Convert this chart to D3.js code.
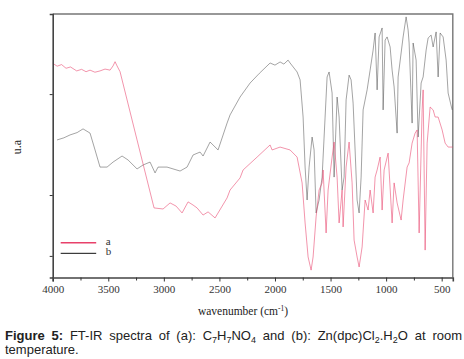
<!DOCTYPE html>
<html>
<head>
<meta charset="utf-8">
<script src="https://cdn.jsdelivr.net/npm/d3@7"></script>
<style>
  body { margin: 0; background: #fff; }
  svg { display: block; }
</style>
</head>
<body>
<script>
// wavenumber (cm-1) and absorbance (a.u., 0-100)
const waveA = [4000, 3960, 3920, 3880, 3840, 3784, 3740, 3700, 3664, 3620, 3574, 3529, 3484, 3457, 3439, 3421, 3394, 3241, 3088, 3007, 2944, 2890, 2836, 2782, 2737, 2701, 2647, 2602, 2539, 2431, 2404, 2314, 2287, 2161, 2044, 2026, 1954, 1864, 1801, 1756, 1729, 1702, 1675, 1657, 1630, 1603, 1576, 1567, 1540, 1522, 1486, 1468, 1441, 1423, 1396, 1387, 1360, 1333, 1306, 1288, 1261, 1243, 1216, 1189, 1162, 1144, 1117, 1099, 1081, 1054, 1036, 1018, 982, 946, 928, 901, 865, 847, 811, 793, 766, 739, 721, 703, 676, 667, 649, 631, 604, 577, 559, 532, 496, 469, 442, 400];
const valA  = [81.3, 80.2, 80.8, 79.4, 79.9, 78.4, 79.0, 78.1, 78.7, 77.9, 78.4, 79.1, 78.7, 80.3, 81.9, 80.3, 78.1, 52.2, 26.4, 26.0, 28.3, 27.1, 24.5, 28.7, 27.5, 26.4, 23.7, 24.9, 22.6, 30.2, 33.2, 37.8, 40.8, 45.7, 50.3, 48.4, 49.5, 48.4, 45.7, 35.9, 20.7, 7.8, 2.8, 7.8, 23.0, 33.2, 35.9, 40.8, 16.9, 33.2, 45.7, 51.4, 38.1, 20.7, 33.2, 19.2, 41.9, 51.4, 35.9, 14.2, 7.8, 4.0, 11.6, 29.4, 25.6, 33.2, 24.5, 38.1, 40.8, 45.7, 25.6, 40.8, 47.2, 20.7, 35.9, 28.3, 21.8, 29.4, 41.9, 43.5, 51.0, 54.8, 56.0, 16.9, 63.6, 71.2, 10.4, 51.0, 64.7, 63.6, 60.9, 60.9, 56.0, 51.0, 49.5, 49.5];

const waveB = [3961, 3900, 3844, 3780, 3727, 3664, 3619, 3574, 3511, 3457, 3376, 3322, 3241, 3187, 3124, 3079, 3052, 2971, 2854, 2791, 2737, 2674, 2647, 2584, 2512, 2431, 2404, 2314, 2224, 2140, 2044, 2000, 1954, 1920, 1882, 1864, 1801, 1774, 1747, 1729, 1711, 1693, 1666, 1648, 1630, 1603, 1576, 1549, 1531, 1513, 1486, 1468, 1441, 1423, 1396, 1378, 1360, 1333, 1315, 1297, 1279, 1261, 1243, 1225, 1207, 1171, 1144, 1117, 1099, 1081, 1063, 1036, 1027, 1009, 991, 964, 946, 928, 901, 892, 865, 847, 820, 802, 793, 766, 757, 730, 712, 685, 667, 640, 622, 595, 577, 550, 532, 514, 487, 460, 442, 406];
const valB  = [52.2, 53.0, 54.1, 55.0, 56.4, 54.8, 48.4, 41.9, 41.9, 43.8, 46.1, 44.6, 41.2, 42.7, 43.8, 39.7, 41.9, 41.9, 40.4, 41.9, 46.5, 47.6, 46.1, 51.4, 48.4, 58.6, 61.7, 68.5, 73.8, 77.5, 81.4, 80.6, 81.8, 81.0, 82.5, 81.4, 78.0, 75.0, 60.9, 41.9, 29.4, 41.9, 53.3, 48.4, 24.5, 29.4, 38.1, 60.9, 76.1, 78.0, 70.0, 38.1, 68.5, 60.9, 33.2, 38.1, 67.4, 76.8, 75.0, 66.2, 48.4, 29.4, 24.5, 38.1, 63.6, 71.2, 78.7, 86.3, 92.8, 71.2, 91.3, 94.7, 63.6, 90.1, 91.3, 87.5, 78.7, 72.3, 54.8, 76.1, 85.2, 91.3, 98.9, 93.9, 89.0, 58.6, 89.0, 82.5, 53.3, 73.8, 76.1, 86.3, 90.9, 92.0, 87.5, 93.2, 76.1, 92.8, 91.3, 82.5, 70.0, 63.6];

const xTicks = [4000, 3500, 3000, 2500, 2000, 1500, 1000, 500];
const xMinor = [3750, 3250, 2750, 2250, 1750, 1250, 750];
const yTicks = [8.2, 31.3, 69.6];
const seriesNames = ["a", "b"];
const seriesColors = ["#e8416a", "#333333"];

// caption words; "_n" marks a subscript digit, bold words first
const captionBold = ["Figure", "5:"];
const captionLine1 = ["FT-IR", "spectra", "of", "(a):", "C_7H_7NO_4", "and", "(b):", "Zn(dpc)Cl_2.H_2O", "at", "room"];
const captionLine2 = ["temperature."];

const width = 464, height = 359;
const margin = { left: 52.7, right: 11.2, top: 14, bottom: 81.5 };
const innerWidth = width - margin.left - margin.right;
const innerHeight = height - margin.top - margin.bottom;
const serif = "Liberation Serif";
const sans = "Liberation Sans";

const svg = d3.select("body").append("svg")
    .attr("width", width)
    .attr("height", height);

const chart = svg.append("g")
    .attr("transform", `translate(${margin.left},${margin.top})`);

const x = d3.scaleLinear().domain([4000, 400]).range([0, innerWidth]);
const y = d3.scaleLinear().domain([0, 100]).range([innerHeight, 0]);

// frame (top and right)
chart.append("path")
    .attr("d", `M0,0H${innerWidth}V${innerHeight}`)
    .attr("fill", "none")
    .attr("stroke", "#777")
    .attr("stroke-width", 1.4);

// spectra
const line = d3.line().x(d => x(d[0])).y(d => y(d[1]));

chart.append("path").datum(d3.zip(waveB, valB))
    .attr("d", line).attr("fill", "none")
    .attr("stroke", seriesColors[1]).attr("stroke-width", 0.6).attr("stroke-opacity", 0.75);

chart.append("path").datum(d3.zip(waveA, valA))
    .attr("d", line).attr("fill", "none")
    .attr("stroke", seriesColors[0]).attr("stroke-width", 0.7).attr("stroke-opacity", 0.8);

// axes
const xAxis = chart.append("g")
    .attr("transform", `translate(0,${innerHeight})`)
    .attr("font-family", serif)
    .attr("font-size", 11)
    .call(d3.axisBottom(x).tickValues(xTicks).tickSize(4).tickFormat(d3.format("d")));
chart.append("g")
    .attr("transform", `translate(0,${innerHeight})`)
    .call(d3.axisBottom(x).tickValues(xMinor).tickSize(3).tickFormat(""))
    .call(g => g.select(".domain").remove());

const yAxis = chart.append("g")
    .call(d3.axisLeft(y).tickValues(yTicks).tickSize(3).tickFormat(""));

[xAxis, yAxis].forEach(g => {
    g.select(".domain").attr("stroke", "#444").attr("stroke-width", 1.6);
});
chart.selectAll(".tick line").attr("stroke", "#333");
xAxis.attr("font-family", serif).attr("font-size", 11);
xAxis.selectAll(".tick text")
    .attr("dy", 0)
    .attr("y", 15.5)
    .attr("fill", "#333");

// legend
const legend = chart.append("g")
    .attr("transform", `translate(8, ${y(13.2)})`);
seriesNames.forEach((name, i) => {
    const g = legend.append("g").attr("transform", `translate(0, ${i * 10.6})`);
    g.append("line")
        .attr("x1", 0).attr("x2", 35.5)
        .attr("stroke", i === 0 ? "#e8416a" : "#111")
        .attr("stroke-width", i === 0 ? 1.6 : 1);
    g.append("text")
        .attr("x", 45).attr("y", 2)
        .attr("font-family", serif)
        .attr("font-size", 11)
        .attr("fill", "#333")
        .text(name);
});

// axis titles
const xTitle = svg.append("text")
    .attr("x", 243)
    .attr("y", 315)
    .attr("text-anchor", "middle")
    .attr("font-family", serif)
    .attr("font-size", 11.5)
    .attr("fill", "#222");
xTitle.append("tspan").text("wavenumber (cm");
xTitle.append("tspan").attr("dy", -4).attr("font-size", 7.5).text("-1");
xTitle.append("tspan").attr("dy", 4).text(")");

svg.append("text")
    .attr("transform", "translate(21,147) rotate(-90)")
    .attr("text-anchor", "middle")
    .attr("font-family", serif)
    .attr("font-size", 12)
    .attr("fill", "#222")
    .text("u.a");

// caption, justified word by word across the first line
const cap = svg.append("g")
    .attr("font-family", sans)
    .attr("font-size", 13)
    .attr("fill", "#222");

function addWord(word, bold, baseline) {
    const t = cap.append("text").attr("y", baseline);
    if (bold) t.attr("font-weight", "bold");
    let low = false;
    word.split(/(_\d)/).filter(s => s).forEach(part => {
        if (part[0] === "_") {
            t.append("tspan").attr("dy", 3).attr("font-size", 9).text(part.slice(1));
            low = true;
        } else {
            const ts = t.append("tspan").text(part);
            if (low) ts.attr("dy", -3);
            low = false;
        }
    });
    return t;
}

const words1 = captionBold.map(w => addWord(w, true, 340))
    .concat(captionLine1.map(w => addWord(w, false, 340)));
const widths = words1.map(t => t.node().getComputedTextLength());
const gap = (457 - d3.sum(widths)) / (words1.length - 1);
let cx = 5;
words1.forEach((t, i) => { t.attr("x", cx); cx += widths[i] + gap; });

captionLine2.forEach(w => addWord(w, false, 354).attr("x", 5));
</script>
</body>
</html>
